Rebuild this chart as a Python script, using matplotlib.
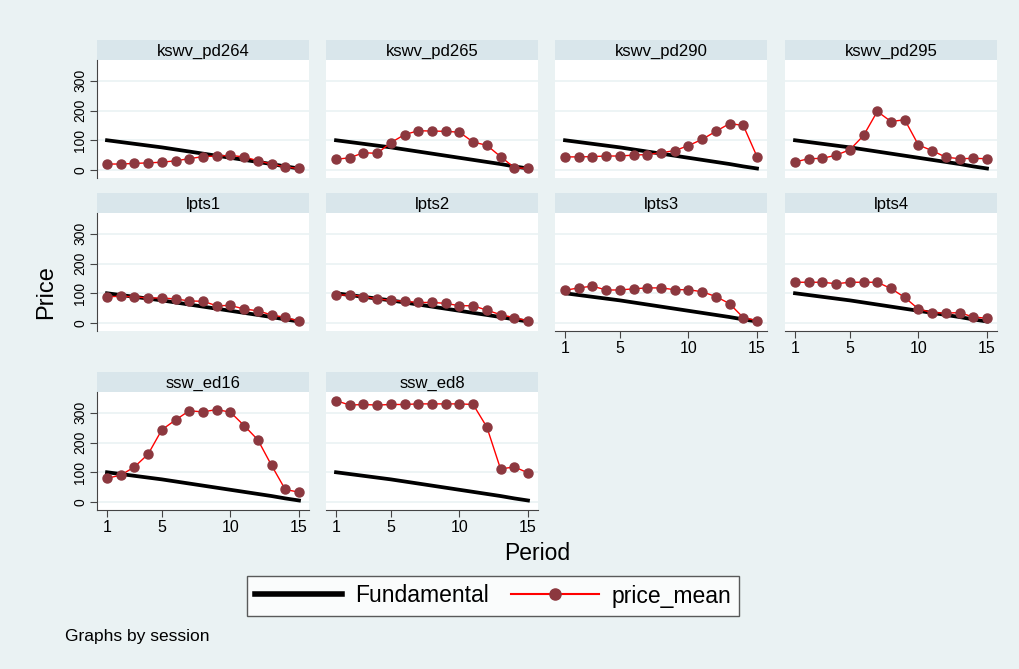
import matplotlib
matplotlib.use("Agg")
import matplotlib.pyplot as plt
from matplotlib.lines import Line2D

plt.rcParams['font.family'] = ['Liberation Sans', 'DejaVu Sans']

# data
period = [1, 2, 3, 4, 5, 6, 7, 8, 9, 10, 11, 12, 13, 14, 15]
fundamental = [100, 94, 88, 82, 76, 69, 62, 55, 48, 41, 34, 27, 20, 12, 5]

sessions = ["kswv_pd264", "kswv_pd265", "kswv_pd290", "kswv_pd295",
            "lpts1", "lpts2", "lpts3", "lpts4",
            "ssw_ed16", "ssw_ed8"]

kswv_pd264 = [20, 20, 22, 24, 26, 31, 38, 45, 47, 49, 44, 31, 20, 10, 5]
kswv_pd265 = [36, 41, 58, 56, 92, 119, 132, 131, 130, 127, 94, 83, 45, 8, 5]
kswv_pd290 = [44, 44, 45, 47, 47, 50, 52, 58, 65, 82, 103, 130, 156, 150, 45]
kswv_pd295 = [27, 38, 39, 50, 68, 116, 197, 163, 169, 84, 65, 43, 38, 39, 38]
lpts1 = [88, 90, 88, 84, 84, 81, 74, 73, 58, 59, 47, 41, 27, 19, 6]
lpts2 = [93, 95, 89, 81, 76, 73, 69, 69, 66, 58, 58, 43, 28, 18, 7]
lpts3 = [110, 118, 124, 111, 111, 115, 118, 118, 112, 112, 105, 89, 65, 18, 8]
lpts4 = [137, 137, 137, 132, 137, 137, 137, 116, 86, 47, 35, 33, 35, 20, 16]
ssw_ed16 = [80, 90, 118, 161, 243, 276, 307, 303, 311, 302, 257, 209, 123, 42, 33]
ssw_ed8 = [341, 326, 328, 326, 328, 328, 330, 330, 330, 330, 328, 252, 111, 118, 98]

price_mean = [kswv_pd264, kswv_pd265, kswv_pd290, kswv_pd295,
              lpts1, lpts2, lpts3, lpts4, ssw_ed16, ssw_ed8]

yticks = [0, 100, 200, 300]
xticks = [1, 5, 10, 15]

BG = "#EAF2F3"
STRIP = "#D9E6EB"
MARK = "#8C383F"
W, H = 1019, 669

fig = plt.figure(figsize=(W / 100, H / 100), dpi=100)
fig.patch.set_facecolor(BG)


def px(x, y, w, h):
    # pixel box (top-left origin) -> figure fraction
    return [x / W, 1 - (y + h) / H, w / W, h / H]


col_left = [97, 326, 555, 785]
row_top = [40, 193, 372]
pw, sh, ph = 212, 20, 118

for i, name in enumerate(sessions):
    r, c = divmod(i, 4)
    x0, y0 = col_left[c], row_top[r]

    strip = fig.add_axes(px(x0, y0, pw, sh))
    strip.set_facecolor(STRIP)
    strip.set_xticks([])
    strip.set_yticks([])
    for s in strip.spines.values():
        s.set_visible(False)
    strip.text(0.5, 0.45, name, ha="center", va="center", fontsize=12,
               transform=strip.transAxes)

    ax = fig.add_axes(px(x0, y0 + sh, pw, ph))
    ax.set_facecolor("white")
    ax.set_xlim(0.27, 15.73)
    ax.set_ylim(-27, 370)
    for yv in yticks:
        ax.axhline(yv, color=BG, lw=1.2, zorder=0)

    ax.plot(period, fundamental, color="black", lw=2.7, zorder=2)
    ax.plot(period, price_mean[i], color="#FF0000", lw=1, marker="o",
            markersize=6.5, markerfacecolor=MARK, markeredgecolor=MARK, zorder=3)

    for s in ["top", "right"]:
        ax.spines[s].set_visible(False)

    if c == 0:
        ax.spines["left"].set_color("#444444")
        ax.set_yticks(yticks)
        ax.set_yticklabels([str(v) for v in yticks], rotation=90, va="center",
                           fontsize=10)
        ax.tick_params(axis="y", length=5, color="#444444", pad=2)
    else:
        ax.spines["left"].set_visible(False)
        ax.set_yticks([])

    if i >= len(sessions) - 4:
        ax.spines["bottom"].set_color("#444444")
        ax.set_xticks(xticks)
        ax.tick_params(axis="x", length=5, color="#444444", labelsize=11.5, pad=2)
    else:
        ax.spines["bottom"].set_visible(False)
        ax.set_xticks([])

fig.text(537 / W, 1 - 553 / H, "Period", ha="center", va="center", fontsize=16.5)
fig.text(46 / W, 1 - 292 / H, "Price", ha="center", va="center", fontsize=17,
         rotation=90)
fig.text(65 / W, 1 - 637 / H, "Graphs by session", ha="left", va="center",
         fontsize=12.5)

handles = [Line2D([], [], color="black", lw=4),
           Line2D([], [], color="#FF0000", lw=1.5, marker="o", markersize=8,
                  markerfacecolor=MARK, markeredgecolor=MARK)]
leg = fig.legend(handles, ["Fundamental", "price_mean"], loc="center",
                 bbox_to_anchor=(493 / W, 1 - 596 / H), ncol=2, fontsize=16.5,
                 frameon=True, fancybox=False, handlelength=3.8,
                 handletextpad=0.55, columnspacing=1.0, borderpad=0.35)
leg.get_frame().set_edgecolor("#333333")
leg.get_frame().set_linewidth(1)

fig.savefig("out.png", dpi=100, facecolor=BG)
